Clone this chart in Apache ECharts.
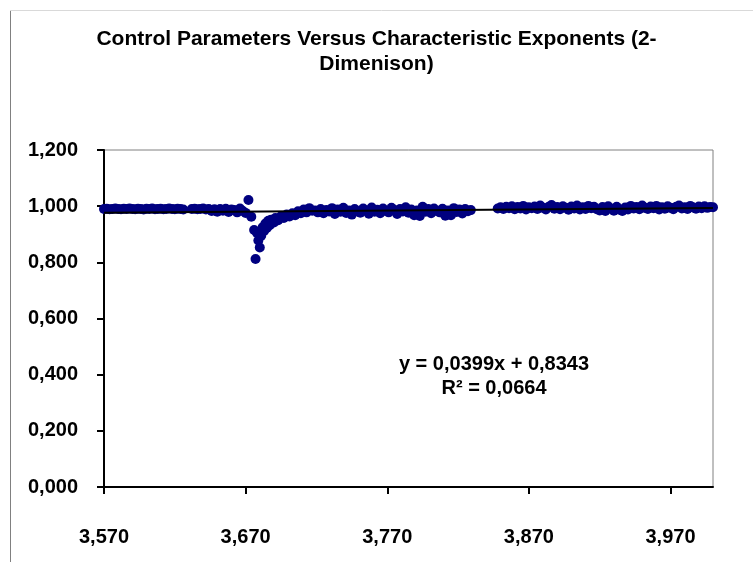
<!DOCTYPE html>
<html>
<head>
<meta charset="utf-8">
<script src="https://cdn.jsdelivr.net/npm/echarts@6/dist/echarts.min.js"></script>
<style>
  html, body { margin: 0; padding: 0; background: #fff; }
  #chart { width: 753px; height: 562px; }
</style>
</head>
<body>
<div id="chart"></div>
<script>
// control parameter r vs characteristic exponent
var segA = [
    [3.570,0.990],[3.572,0.991],[3.574,0.989],[3.576,0.990],[3.578,0.992],[3.580,0.990],
    [3.582,0.989],[3.584,0.991],[3.586,0.990],[3.588,0.992],[3.590,0.990],[3.592,0.989],
    [3.594,0.991],[3.596,0.990],[3.598,0.988],[3.600,0.991],[3.602,0.990],[3.604,0.992],
    [3.606,0.989],[3.608,0.990],[3.610,0.991],[3.612,0.989],[3.614,0.990],[3.616,0.992],
    [3.618,0.990],[3.620,0.989],[3.622,0.991],[3.624,0.990],[3.626,0.988]
];
var segB = [
    [3.632,0.990],[3.634,0.991],[3.636,0.989],[3.638,0.990],[3.640,0.992],[3.642,0.988],
    [3.644,0.990],[3.646,0.983],[3.648,0.989],[3.650,0.980],[3.652,0.990],[3.654,0.984],
    [3.656,0.991],[3.658,0.979],[3.660,0.988],[3.662,0.986],[3.664,0.978],[3.666,0.992],
    [3.668,0.983],[3.670,0.976]
];
var dip = [
    [3.672,1.022],[3.674,0.962],[3.676,0.915],[3.677,0.812],[3.678,0.905],[3.679,0.878],
    [3.680,0.853],[3.681,0.895],[3.682,0.925],[3.683,0.912],[3.684,0.938],[3.685,0.922],
    [3.686,0.948],[3.687,0.932],[3.688,0.952],[3.690,0.942],[3.691,0.958],[3.693,0.950],
    [3.695,0.964],[3.697,0.958],[3.699,0.970],[3.701,0.963],[3.703,0.975],[3.705,0.968],
    [3.707,0.982],[3.709,0.975],[3.711,0.988],[3.713,0.978],[3.715,0.993],[3.717,0.984]
];
var segC = [
    [3.719,0.985],[3.721,0.978],[3.723,0.990],[3.725,0.975],[3.727,0.986],[3.729,0.981],
    [3.731,0.993],[3.733,0.972],[3.735,0.988],[3.737,0.980],[3.739,0.994],[3.741,0.976],
    [3.743,0.985],[3.745,0.970],[3.747,0.990],[3.749,0.982],[3.751,0.977],[3.753,0.992],
    [3.755,0.984],[3.757,0.973],[3.759,0.995],[3.761,0.980],[3.763,0.987],[3.765,0.975],
    [3.767,0.992],[3.769,0.983],[3.771,0.978],[3.773,0.994],[3.775,0.986],[3.777,0.972],
    [3.779,0.990],[3.781,0.981],[3.783,0.996],[3.785,0.977],[3.787,0.988],[3.789,0.968],
    [3.791,0.985],[3.793,0.965],[3.795,0.998],[3.797,0.980],[3.799,0.990],[3.801,0.975],
    [3.803,0.992],[3.805,0.983],[3.807,0.978],[3.809,0.991],[3.811,0.966],[3.813,0.985],
    [3.815,0.968],[3.817,0.993],[3.819,0.979],[3.821,0.988],[3.823,0.974],[3.825,0.990],
    [3.827,0.982],[3.829,0.986]
];
var segD = [
    [3.848,0.992],[3.850,0.996],[3.852,0.990],[3.854,0.998],[3.856,0.993],[3.858,1.000],
    [3.860,0.989],[3.862,0.997],[3.864,0.992],[3.866,1.001],[3.868,0.988],[3.870,0.996],
    [3.872,0.993],[3.874,0.999],[3.876,0.990],[3.878,1.002],[3.880,0.994],[3.882,0.988],
    [3.884,0.998],[3.886,1.004],[3.888,0.991],[3.890,0.997],[3.892,0.989],[3.894,1.000],
    [3.896,0.994],[3.898,0.987],[3.900,0.999],[3.902,0.992],[3.904,1.002],[3.906,0.988],
    [3.908,0.996],[3.910,0.990],[3.912,1.001],[3.914,0.993],[3.916,0.998],[3.918,0.989],
    [3.920,0.985],[3.922,0.997],[3.924,0.983],[3.926,1.000],[3.928,0.991],[3.930,0.984],
    [3.932,0.998],[3.934,0.987],[3.936,0.983],[3.938,0.995],[3.940,0.988],[3.942,1.001],
    [3.944,0.992],[3.946,0.997],[3.948,0.989],[3.950,1.002],[3.952,0.994],[3.954,0.990],
    [3.956,0.999],[3.958,0.993],[3.960,1.001],[3.962,0.988],[3.964,0.996],[3.966,0.991],
    [3.968,1.000],[3.970,0.994],[3.972,0.989],[3.974,0.998],[3.976,1.002],[3.978,0.992],
    [3.980,0.996],[3.982,0.990],[3.984,1.001],[3.986,0.995],[3.988,0.991],[3.990,0.999],
    [3.992,0.993],[3.994,1.000],[3.996,0.994],[3.998,0.997],[4.000,0.996]
];
var xTicks = [3.57, 3.67, 3.77, 3.87, 3.97];
var trendSlope = 0.0399;
var trendIntercept = 0.8343;
var trendText = 'y = 0,0399x + 0,8343\nR\u00b2 = 0,0664';
var chartTitle = 'Control Parameters Versus Characteristic Exponents (2-\nDimenison)';

var points = segA.concat(segB, dip, segC, segD);
var xMin = 3.57, xMax = 4.0;
var trend = [
    [xMin, trendSlope * xMin + trendIntercept],
    [xMax, trendSlope * xMax + trendIntercept]
];

function comma(v) {
    return v.toFixed(3).replace('.', ',');
}

var font = '"Liberation Sans", Arial, sans-serif';
var chart = echarts.init(document.getElementById('chart'), null, {renderer: 'canvas'});
var option = {
    backgroundColor: '#fff',
    animation: false,
    title: {
        text: chartTitle,
        left: 'center',
        top: 22,
        textStyle: {
            fontFamily: font,
            fontWeight: 'bold',
            fontSize: 21,
            lineHeight: 25,
            color: '#000'
        }
    },
    grid: {
        left: 104,
        top: 150,
        right: 40,
        bottom: 75,
        show: true,
        borderColor: '#808080',
        borderWidth: 1,
        backgroundColor: '#fff'
    },
    xAxis: {
        type: 'value',
        min: xMin,
        max: xMax,
        splitLine: {show: false},
        axisLine: {lineStyle: {color: '#000', width: 2}},
        axisTick: {
            show: true,
            length: 7,
            customValues: xTicks,
            lineStyle: {color: '#000', width: 2}
        },
        axisLabel: {
            customValues: xTicks,
            margin: 40,
            fontFamily: font,
            fontWeight: 'bold',
            fontSize: 20,
            color: '#000',
            formatter: function (v) { return comma(v); }
        }
    },
    yAxis: {
        type: 'value',
        min: 0,
        max: 1.2,
        interval: 0.2,
        splitLine: {show: false},
        axisLine: {show: true, lineStyle: {color: '#000', width: 2}},
        axisTick: {show: true, length: 7, lineStyle: {color: '#000', width: 2}},
        axisLabel: {
            margin: 26,
            fontFamily: font,
            fontWeight: 'bold',
            fontSize: 20,
            color: '#000',
            formatter: function (v) { return comma(v); }
        }
    },
    series: [
        {
            type: 'scatter',
            data: points,
            symbol: 'circle',
            symbolSize: 10,
            itemStyle: {color: '#000080', opacity: 1},
            z: 2
        },
        {
            type: 'line',
            data: trend,
            showSymbol: false,
            silent: true,
            lineStyle: {color: '#000', width: 2},
            z: 3
        }
    ],
    graphic: [
        {
            type: 'text',
            x: 494,
            y: 352,
            style: {
                text: trendText,
                align: 'center',
                font: 'bold 20px ' + font,
                lineHeight: 24,
                fill: '#000'
            }
        },
        {
            type: 'line',
            shape: {x1: 10.5, y1: 10, x2: 10.5, y2: 562},
            style: {stroke: '#808080', lineWidth: 1}
        },
        {
            type: 'line',
            shape: {x1: 10, y1: 10.5, x2: 753, y2: 10.5},
            style: {stroke: '#d9d9d9', lineWidth: 1}
        }
    ]
};
chart.setOption(option);
window.onresize = chart.resize;
</script>
</body>
</html>
